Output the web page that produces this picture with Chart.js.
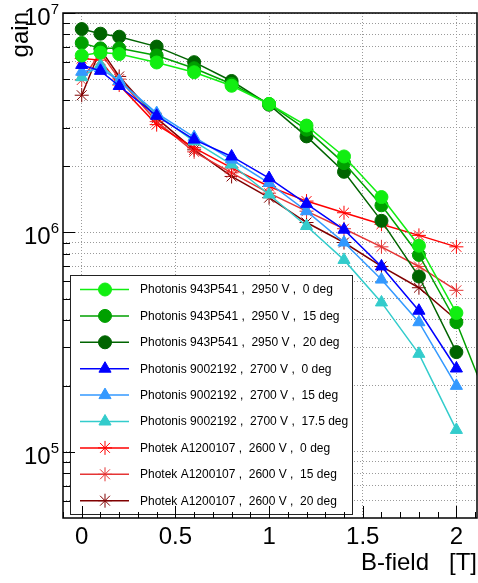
<!DOCTYPE html>
<html>
<head>
<meta charset="utf-8">
<title>gain vs B-field</title>
<script src="https://cdn.jsdelivr.net/npm/chart.js@4.4.1/dist/chart.umd.min.js"></script>
<style>
  html, body { margin: 0; padding: 0; background: #fff; }
  canvas { display: block; }
</style>
</head>
<body>
<canvas id="gainChart" width="478" height="583"></canvas>
<script>
// B-field points [T]
const bField = [0, 0.1, 0.2, 0.4, 0.6, 0.8, 1.0, 1.2, 1.4, 1.6, 1.8, 2.0];
const bFieldLong = [0, 0.1, 0.2, 0.4, 0.6, 0.8, 1.0, 1.2, 1.4, 1.6, 1.8, 2.0, 2.2];

// Photonis 943P541, 2950 V
const ph943_0 = [6.4e6, 6.6e6, 6.5e6, 5.95e6, 5.37e6, 4.66e6, 3.85e6, 3.07e6, 2.22e6, 1.45e6, 8.7e5, 4.3e5];
const ph943_15 = [7.3e6, 6.9e6, 6.9e6, 6.4e6, 5.6e6, 4.75e6, 3.85e6, 2.94e6, 2.07e6, 1.33e6, 7.9e5, 3.9e5, 1.45e5];
const ph943_20 = [8.45e6, 8.05e6, 7.8e6, 7.03e6, 5.97e6, 4.9e6, 3.82e6, 2.74e6, 1.89e6, 1.13e6, 6.3e5, 2.85e5];

// Photonis 9002192, 2700 V
const ph900_0 = [5.8e6, 5.45e6, 4.65e6, 3.4e6, 2.65e6, 2.22e6, 1.77e6, 1.35e6, 1.03e6, 7.0e5, 4.4e5, 2.4e5];
const ph900_15 = [5.4e6, 5.6e6, 4.9e6, 3.5e6, 2.72e6, 2.15e6, 1.68e6, 1.25e6, 9.0e5, 6.1e5, 3.9e5, 2.0e5];
const ph900_175 = [5.1e6, 5.8e6, 4.9e6, 3.45e6, 2.6e6, 2.04e6, 1.49e6, 1.07e6, 7.5e5, 4.8e5, 2.8e5, 1.26e5];

// Photek A1200107, 2600 V
const pk_0 = [6.2e6, 6.1e6, 4.7e6, 3.1e6, 2.43e6, 1.97e6, 1.62e6, 1.39e6, 1.23e6, 1.09e6, 9.7e5, 8.6e5];
const pk_15 = [4.95e6, 6.6e6, 5.0e6, 3.2e6, 2.33e6, 1.87e6, 1.51e6, 1.25e6, 1.04e6, 8.6e5, 7.0e5, 5.45e5];
const pk_20 = [4.22e6, 6.84e6, 5.14e6, 3.32e6, 2.38e6, 1.8e6, 1.44e6, 1.11e6, 9.0e5, 7.0e5, 5.6e5, 4.0e5];

// axes
const xTickValues = [0, 0.5, 1, 1.5, 2];
const xTickLabels = ['0', '0.5', '1', '1.5', '2'];
const yTickValues = [
  6e4, 7e4, 8e4, 9e4,
  1e5, 2e5, 3e5, 4e5, 5e5, 6e5, 7e5, 8e5, 9e5,
  1e6, 2e6, 3e6, 4e6, 5e6, 6e6, 7e6, 8e6, 9e6,
  1e7
];
const yLabelValues = [1e5, 1e6, 1e7];
const yLabelExponents = ['5', '6', '7'];

const FONT = 'Liberation Sans, Arial, sans-serif';

function pts(xs, ys) {
  return ys.map((v, i) => ({ x: xs[i], y: v }));
}

function series(label, xs, ys, color, style, radius) {
  return {
    label: label,
    data: pts(xs, ys),
    borderColor: color,
    backgroundColor: color,
    borderWidth: 1.5,
    pointStyle: style,
    pointRadius: radius,
    pointBorderWidth: 1,
    pointBackgroundColor: color,
    pointBorderColor: color,
    tension: 0
  };
}

const datasets = [
  series('Photonis 943P541 ,  2950 V ,  0 deg', bField, ph943_0, '#11ee11', 'circle', 6.5),
  series('Photonis 943P541 ,  2950 V ,  15 deg', bFieldLong, ph943_15, '#00a000', 'circle', 6.5),
  series('Photonis 943P541 ,  2950 V ,  20 deg', bField, ph943_20, '#006400', 'circle', 6.5),
  series('Photonis 9002192 ,  2700 V ,  0 deg', bField, ph900_0, '#0000ff', 'triangle', 7),
  series('Photonis 9002192 ,  2700 V ,  15 deg', bField, ph900_15, '#3399ff', 'triangle', 7),
  series('Photonis 9002192 ,  2700 V ,  17.5 deg', bField, ph900_175, '#33cccc', 'triangle', 7),
  series('Photek A1200107 ,  2600 V ,  0 deg', bField, pk_0, '#ff0000', 'star', 7),
  series('Photek A1200107 ,  2600 V ,  15 deg', bField, pk_15, '#e53535', 'star', 7),
  series('Photek A1200107 ,  2600 V ,  20 deg', bField, pk_20, '#800000', 'star', 7)
];

// ROOT style decorations: legend box, frame, inner ticks, y labels and title
const rootDecor = {
  id: 'rootDecor',
  afterDatasetsDraw(chart) {
    const { ctx, chartArea: a, scales } = chart;
    const xs = scales.x, ys = scales.y;
    ctx.save();

    // legend
    const box = { left: 70, top: 275, right: 352, bottom: 514 };
    ctx.fillStyle = '#fff';
    ctx.fillRect(box.left, box.top, box.right - box.left, box.bottom - box.top);
    ctx.strokeStyle = '#222';
    ctx.lineWidth = 1;
    ctx.strokeRect(box.left + 0.5, box.top + 0.5, box.right - box.left, box.bottom - box.top);
    chart.data.datasets.forEach((ds, i) => {
      const cy = 289.5 + i * 26.4;
      ctx.strokeStyle = ds.borderColor;
      ctx.lineWidth = 1.5;
      ctx.beginPath();
      ctx.moveTo(80, cy);
      ctx.lineTo(129, cy);
      ctx.stroke();
      ctx.fillStyle = ds.pointBackgroundColor;
      ctx.strokeStyle = ds.pointBorderColor;
      ctx.lineWidth = ds.pointBorderWidth;
      Chart.helpers.drawPoint(ctx, {
        pointStyle: ds.pointStyle, rotation: 0, radius: ds.pointRadius, borderWidth: ds.pointBorderWidth
      }, 105, cy);
      ctx.fillStyle = '#000';
      ctx.font = '12px ' + FONT;
      ctx.textAlign = 'left';
      ctx.textBaseline = 'middle';
      ctx.fillText(ds.label, 140, cy + 0.5);
    });

    // inner ticks
    ctx.strokeStyle = '#000';
    ctx.lineWidth = 1;
    ctx.beginPath();
    for (let k = -1; k <= 21; k++) {
      const v = k / 10;
      const px = Math.round(xs.getPixelForValue(v)) + 0.5;
      if (px <= a.left || px >= a.right) continue;
      const major = Math.abs(v * 2 - Math.round(v * 2)) < 1e-9;
      ctx.moveTo(px, a.bottom);
      ctx.lineTo(px, a.bottom - (major ? 12 : 6));
    }
    yTickValues.forEach(v => {
      const py = Math.round(ys.getPixelForValue(v)) + 0.5;
      const major = yLabelValues.includes(v);
      ctx.moveTo(a.left, py);
      ctx.lineTo(a.left + (major ? 12 : 7), py);
    });
    ctx.stroke();

    // frame
    ctx.lineWidth = 1.5;
    ctx.strokeRect(a.left, a.top, a.right - a.left, a.bottom - a.top);
    ctx.restore();
  },
  afterDraw(chart) {
    const { ctx, scales } = chart;
    const ys = scales.y;
    ctx.save();
    ctx.fillStyle = '#000';
    ctx.textBaseline = 'alphabetic';
    yLabelValues.forEach((v, i) => {
      const py = ys.getPixelForValue(v);
      ctx.font = '15px ' + FONT;
      const ew = ctx.measureText(yLabelExponents[i]).width;
      ctx.textAlign = 'right';
      ctx.fillText(yLabelExponents[i], 59, py + 1);
      ctx.font = '24px ' + FONT;
      ctx.fillText('10', 59 - ew, py + 12);
    });
    // y title
    ctx.translate(28, 12);
    ctx.rotate(-Math.PI / 2);
    ctx.font = '24px ' + FONT;
    ctx.textAlign = 'right';
    ctx.fillText('gain', 0, 0);
    ctx.restore();
  }
};

new Chart(document.getElementById('gainChart'), {
  type: 'line',
  data: { datasets: datasets },
  options: {
    responsive: false,
    animation: false,
    events: [],
    layout: { autoPadding: false, padding: { top: 13, right: 1, left: 0, bottom: 0 } },
    plugins: {
      legend: { display: false },
      tooltip: { enabled: false }
    },
    scales: {
      x: {
        type: 'linear',
        position: 'bottom',
        min: -0.1,
        max: 2.11,
        afterBuildTicks: (scale) => { scale.ticks = xTickValues.map(v => ({ value: v })); },
        afterFit: (scale) => {
          scale.height = 65;
          scale.paddingLeft = 0;
          scale.paddingRight = 0;
        },
        grid: { color: '#9a9a9a', lineWidth: 1, drawTicks: false },
        border: { display: false, dash: [1, 2] },
        ticks: {
          color: '#000',
          padding: 5,
          maxRotation: 0,
          autoSkip: false,
          font: { family: FONT, size: 24 },
          callback: (v) => xTickLabels[xTickValues.indexOf(v)]
        },
        title: {
          display: true,
          text: 'B-field   [T]',
          align: 'end',
          color: '#000',
          font: { family: FONT, size: 24 },
          padding: { top: 0, bottom: 5 }
        }
      },
      y: {
        type: 'logarithmic',
        min: 5e4,
        max: 1e7,
        afterBuildTicks: (scale) => { scale.ticks = yTickValues.map(v => ({ value: v })); },
        afterFit: (scale) => { scale.width = 63; },
        grid: { color: '#9a9a9a', lineWidth: 1, drawTicks: false },
        border: { display: false, dash: [1, 2] },
        ticks: { display: false }
      }
    }
  },
  plugins: [rootDecor]
});
</script>
</body>
</html>
